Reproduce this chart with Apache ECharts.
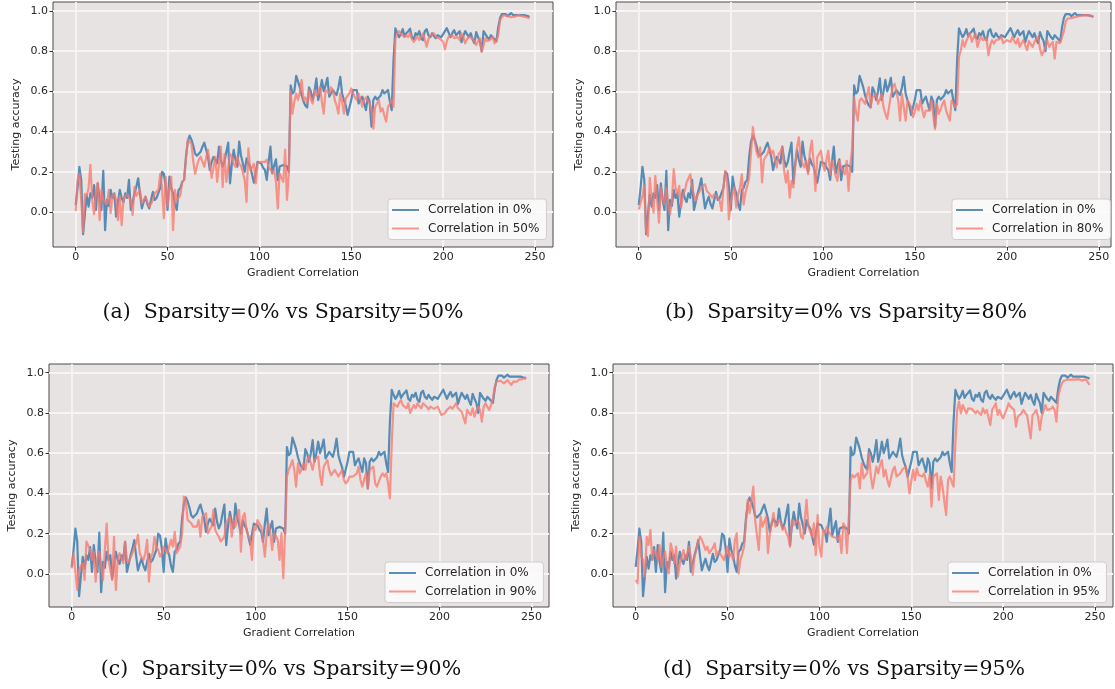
<!DOCTYPE html>
<html>
<head>
<meta charset="utf-8">
<script src="https://cdn.jsdelivr.net/npm/echarts@6/dist/echarts.min.js"></script>
<style>
  html, body { margin: 0; padding: 0; background: #ffffff; }
  #chart { width: 1115px; height: 689px; }
</style>
</head>
<body>
<div id="chart"></div>
<script>
// Testing accuracy per gradient-correlation step, dense baseline (sparsity 0%)
const acc0 = [
  0.035,0.12,0.225,0.16,-0.11,-0.01,0.085,0.027,0.093,0.07,
  0.134,0.01,0.143,0.06,0.01,0.205,-0.09,0.06,0.03,0.11,
  0.07,0.093,-0.023,0.05,0.11,0.07,0.05,0.093,0.07,0.16,
  0.01,0.05,0.093,0.126,0.168,0.09,0.018,0.05,0.076,0.04,
  0.018,0.06,0.1,0.06,0.07,0.076,0.12,0.2,0.19,0.126,
  0.01,0.176,0.12,0.093,0.04,0.01,0.11,0.12,0.15,0.16,
  0.275,0.35,0.38,0.36,0.33,0.29,0.28,0.274,0.3,0.325,
  0.345,0.31,0.274,0.209,0.25,0.274,0.26,0.242,0.325,0.26,
  0.226,0.25,0.3,0.345,0.143,0.24,0.309,0.26,0.226,0.35,
  0.28,0.242,0.2,0.267,0.24,0.226,0.234,0.146,0.2,0.25,
  0.245,0.242,0.22,0.209,0.16,0.25,0.325,0.192,0.23,0.262,
  0.159,0.226,0.23,0.234,0.23,0.226,0.2,0.63,0.59,0.6,
  0.677,0.65,0.62,0.58,0.55,0.53,0.52,0.62,0.6,0.557,
  0.6,0.665,0.557,0.6,0.657,0.6,0.63,0.668,0.574,0.59,
  0.607,0.6,0.582,0.62,0.673,0.59,0.557,0.53,0.483,0.52,
  0.557,0.607,0.6,0.607,0.54,0.56,0.574,0.54,0.507,0.574,
  0.55,0.425,0.557,0.574,0.56,0.557,0.58,0.607,0.59,0.582,
  0.607,0.55,0.507,0.756,0.914,0.89,0.87,0.885,0.91,0.875,
  0.89,0.9,0.912,0.87,0.86,0.89,0.88,0.9,0.865,0.855,
  0.9,0.91,0.88,0.87,0.89,0.875,0.865,0.88,0.882,0.87,
  0.875,0.9,0.915,0.92,0.87,0.89,0.905,0.88,0.89,0.9,
  0.845,0.875,0.9,0.885,0.87,0.89,0.86,0.84,0.895,0.87,
  0.85,0.8,0.9,0.885,0.87,0.86,0.88,0.87,0.865,0.85,
  0.92,0.965,0.985,0.98,0.985,0.975,0.98,0.99,0.98,0.975,
  0.98,0.985,0.98,0.975,0.98,0.98,0.975,0.97
];

// Sparsity 50%
const acc50 = [
  0.005,0.16,0.19,0.06,-0.10,0.09,0.08,0.12,0.235,0.06,
  -0.01,0.10,0.145,-0.04,0.11,0.06,0.06,0.04,0.11,-0.005,
  0.08,0.09,0.06,-0.04,0.08,-0.065,0.06,0.08,0.09,0.07,
  0.06,-0.015,0.125,0.08,0.075,0.11,0.043,0.06,0.075,0.05,
  0.027,0.04,0.06,0.093,0.10,0.11,0.19,0.12,-0.03,0.175,
  0.03,0.12,0.175,-0.09,0.11,0.06,0.07,0.085,0.15,0.16,
  0.26,0.36,0.35,0.34,0.25,0.19,0.23,0.26,0.275,0.25,
  0.225,0.27,0.31,0.24,0.17,0.22,0.275,0.15,0.24,0.325,
  0.125,0.29,0.15,0.22,0.29,0.275,0.24,0.225,0.275,0.24,
  0.23,0.225,0.16,0.05,0.317,0.21,0.22,0.24,0.143,0.242,
  0.25,0.25,0.242,0.25,0.26,0.226,0.21,0.193,0.21,0.15,
  0.018,0.193,0.17,0.15,0.31,0.06,0.193,0.60,0.49,0.55,
  0.59,0.557,0.60,0.657,0.557,0.57,0.54,0.607,0.56,0.54,
  0.607,0.58,0.59,0.624,0.55,0.49,0.607,0.60,0.59,0.62,
  0.607,0.557,0.53,0.49,0.59,0.55,0.49,0.565,0.557,0.59,
  0.615,0.615,0.57,0.557,0.59,0.56,0.524,0.557,0.57,0.574,
  0.54,0.507,0.415,0.524,0.54,0.557,0.50,0.515,0.48,0.45,
  0.524,0.54,0.557,0.524,0.86,0.89,0.90,0.885,0.89,0.87,
  0.88,0.87,0.892,0.86,0.847,0.86,0.872,0.856,0.87,0.889,
  0.86,0.823,0.86,0.88,0.875,0.889,0.872,0.88,0.864,0.855,
  0.847,0.809,0.85,0.872,0.87,0.88,0.865,0.856,0.87,0.856,
  0.889,0.87,0.839,0.86,0.872,0.87,0.864,0.85,0.831,0.85,
  0.864,0.797,0.83,0.864,0.85,0.847,0.86,0.872,0.839,0.85,
  0.88,0.955,0.97,0.98,0.978,0.975,0.975,0.97,0.975,0.972,
  0.975,0.98,0.978,0.975,0.975,0.97,0.968,0.964
];

// Sparsity 80%
const acc80 = [
  0.013,0.022,0.08,0.13,-0.095,-0.12,0.17,0.06,-0.003,0.18,
  0.06,-0.053,0.122,0.07,0.038,0.122,0.04,-0.012,0.055,0.213,
  0.12,0.088,0.13,0.022,0.08,0.105,0.147,0.14,0.188,0.12,
  0.088,0.055,0.088,0.10,0.122,0.13,0.138,0.105,0.095,0.088,
  0.072,0.088,0.08,0.072,0.055,0.005,0.12,0.205,0.155,-0.037,
  0.055,0.09,0.122,0.022,0.088,0.12,0.188,0.038,0.097,0.13,
  0.172,0.30,0.422,0.355,0.30,0.272,0.322,0.147,0.26,0.255,
  0.29,0.322,0.288,0.305,0.26,0.222,0.288,0.30,0.322,0.205,
  0.147,0.205,0.072,0.155,0.122,0.222,0.322,0.372,0.272,0.24,
  0.222,0.255,0.188,0.30,0.355,0.255,0.105,0.272,0.29,0.305,
  0.238,0.205,0.26,0.305,0.188,0.255,0.222,0.18,0.155,0.255,
  0.22,0.205,0.188,0.255,0.105,0.238,0.32,0.572,0.50,0.455,
  0.555,0.565,0.572,0.538,0.58,0.622,0.522,0.572,0.58,0.588,
  0.538,0.56,0.588,0.522,0.49,0.463,0.522,0.58,0.622,0.638,
  0.60,0.555,0.455,0.588,0.52,0.455,0.555,0.54,0.522,0.472,
  0.50,0.538,0.505,0.555,0.51,0.472,0.505,0.50,0.505,0.555,
  0.48,0.413,0.538,0.488,0.51,0.538,0.555,0.505,0.48,0.455,
  0.555,0.54,0.522,0.538,0.772,0.805,0.855,0.822,0.85,0.872,
  0.888,0.847,0.87,0.888,0.822,0.85,0.872,0.855,0.86,0.863,
  0.78,0.83,0.855,0.838,0.855,0.847,0.86,0.872,0.84,0.838,
  0.855,0.85,0.847,0.872,0.85,0.838,0.863,0.822,0.84,0.855,
  0.863,0.805,0.85,0.855,0.822,0.847,0.86,0.872,0.813,0.78,
  0.80,0.822,0.855,0.822,0.835,0.847,0.763,0.847,0.838,0.84,
  0.847,0.90,0.947,0.963,0.965,0.965,0.968,0.97,0.972,0.975,
  0.975,0.978,0.98,0.98,0.98,0.978,0.976,0.975
];

// Sparsity 90%
const acc90 = [
  0.028,0.103,0.111,-0.079,0.02,0.04,0.053,-0.03,0.161,0.161,
  0.12,0.07,0.111,-0.038,0.08,0.111,0.036,-0.03,0.12,0.25,
  0.07,0.02,-0.03,0.185,-0.079,0.07,0.103,0.08,0.053,0.161,
  0.07,0.06,0.053,0.103,0.13,0.152,0.194,0.103,0.08,0.07,
  0.103,0.17,-0.038,0.086,0.103,0.185,0.136,0.12,0.086,0.103,
  0.136,0.12,0.103,0.136,0.17,0.136,0.209,0.103,0.12,0.136,
  0.202,0.384,0.368,0.268,0.26,0.252,0.235,0.24,0.235,0.268,
  0.185,0.285,0.29,0.302,0.202,0.22,0.235,0.318,0.219,0.20,
  0.185,0.161,0.152,0.185,0.252,0.27,0.285,0.185,0.268,0.235,
  0.29,0.318,0.111,0.285,0.302,0.219,0.19,0.169,0.07,0.235,
  0.219,0.268,0.25,0.235,0.169,0.086,0.2,0.252,0.202,0.119,
  0.202,0.19,0.169,0.07,0.202,-0.021,0.202,0.485,0.517,0.54,
  0.566,0.517,0.434,0.55,0.5,0.52,0.55,0.517,0.566,0.583,
  0.55,0.517,0.566,0.57,0.583,0.492,0.442,0.533,0.55,0.566,
  0.517,0.49,0.484,0.517,0.5,0.484,0.50,0.517,0.467,0.45,
  0.46,0.484,0.475,0.484,0.49,0.5,0.533,0.467,0.434,0.47,
  0.5,0.425,0.517,0.52,0.533,0.45,0.434,0.46,0.484,0.50,
  0.484,0.5,0.45,0.376,0.65,0.848,0.856,0.831,0.85,0.864,
  0.839,0.83,0.823,0.848,0.8,0.82,0.839,0.823,0.848,0.835,
  0.823,0.848,0.84,0.831,0.818,0.831,0.823,0.82,0.815,0.831,
  0.81,0.79,0.781,0.8,0.815,0.806,0.831,0.82,0.815,0.848,
  0.823,0.815,0.806,0.798,0.748,0.815,0.80,0.79,0.823,0.781,
  0.81,0.831,0.815,0.757,0.831,0.848,0.83,0.815,0.839,0.87,
  0.93,0.955,0.958,0.96,0.952,0.947,0.955,0.963,0.95,0.939,
  0.955,0.963,0.955,0.965,0.972,0.968,0.963,0.977
];

// Sparsity 95%
const acc95 = [
  -0.03,-0.046,0.185,0.086,0.07,-0.013,0.185,0.144,0.219,0.07,
  0.119,0.103,0.07,0.144,0.036,0.08,0.111,0.036,0.003,0.152,
  0.119,0.053,0.136,-0.013,0.05,0.086,0.119,0.07,0.1,0.136,
  0.086,-0.005,0.086,0.12,0.161,0.185,0.17,0.169,0.119,0.136,
  0.103,0.111,0.13,0.152,0.086,0.111,0.1,0.086,0.07,0.1,
  0.136,0.086,0.103,0.07,0.169,0.202,0.003,0.07,0.1,0.136,
  0.252,0.368,0.302,0.36,0.434,0.268,0.268,0.119,0.285,0.235,
  0.26,0.285,0.103,0.2,0.252,0.302,0.235,0.25,0.268,0.252,
  0.219,0.235,0.202,0.185,0.136,0.268,0.243,0.25,0.268,0.252,
  0.185,0.175,0.169,0.368,0.235,0.21,0.185,0.252,0.094,0.293,
  0.136,0.086,0.219,0.202,0.235,0.21,0.202,0.185,0.194,0.18,
  0.169,0.194,0.103,0.252,0.235,0.103,0.285,0.467,0.492,0.48,
  0.475,0.5,0.425,0.55,0.475,0.49,0.5,0.6,0.484,0.425,
  0.48,0.533,0.5,0.54,0.566,0.484,0.517,0.467,0.434,0.48,
  0.517,0.533,0.484,0.49,0.5,0.517,0.52,0.533,0.484,0.4,
  0.46,0.517,0.467,0.525,0.492,0.49,0.484,0.5,0.46,0.434,
  0.492,0.334,0.484,0.49,0.5,0.368,0.484,0.434,0.36,0.293,
  0.467,0.484,0.459,0.434,0.649,0.815,0.856,0.798,0.839,0.82,
  0.798,0.823,0.815,0.82,0.823,0.798,0.81,0.815,0.79,0.823,
  0.798,0.815,0.78,0.74,0.815,0.83,0.848,0.79,0.815,0.79,
  0.773,0.798,0.82,0.848,0.831,0.839,0.815,0.732,0.781,0.79,
  0.798,0.815,0.80,0.79,0.781,0.674,0.79,0.80,0.815,0.781,
  0.715,0.781,0.81,0.839,0.815,0.815,0.82,0.831,0.815,0.757,
  0.881,0.92,0.947,0.96,0.967,0.965,0.963,0.965,0.967,0.965,
  0.963,0.968,0.972,0.96,0.955,0.967,0.965,0.939
];

const xTicks = [0, 50, 100, 150, 200, 250];
const yTicks = [0.0, 0.2, 0.4, 0.6, 0.8, 1.0];
const baseName = 'Correlation in 0%';
const sparseNames = ['Correlation in 50%', 'Correlation in 80%', 'Correlation in 90%', 'Correlation in 95%'];
const sparseSeries = [acc50, acc80, acc90, acc95];
const captions = [
  '(a)  Sparsity=0% vs Sparsity=50%',
  '(b)  Sparsity=0% vs Sparsity=80%',
  '(c)  Sparsity=0% vs Sparsity=90%',
  '(d)  Sparsity=0% vs Sparsity=95%'
];
const xName = 'Gradient Correlation';
const yName = 'Testing accuracy';

// Panel geometry (pixels) and axis extents
const layout = [
  { left: 53,  top: 2,   width: 500, height: 245, xMin: -12.36, xMax: 259.8, yMin: -0.174, yMax: 1.045,
    legend: [388, 199], caption: [283, 313] },
  { left: 616, top: 2,   width: 495, height: 245, xMin: -12.36, xMax: 256.6, yMin: -0.174, yMax: 1.045,
    legend: [952, 199], caption: [846, 313] },
  { left: 49,  top: 364, width: 500, height: 243, xMin: -12.36, xMax: 259.5, yMin: -0.164, yMax: 1.043,
    legend: [385, 562], caption: [281, 670] },
  { left: 613, top: 364, width: 500, height: 243, xMin: -12.36, xMax: 259.8, yMin: -0.164, yMax: 1.043,
    legend: [948, 562], caption: [844, 670] }
];

const BLUE = 'rgba(44, 114, 168, 0.78)';
const RED = 'rgba(250, 122, 110, 0.78)';
const FACE = '#e8e3e3';
const TEXT = '#262626';
const SANS = 'DejaVu Sans';

const steps = acc0.map((_, i) => i);
const pairs = vals => vals.map((v, i) => [steps[i], v]);

const grid = [], xAxis = [], yAxis = [], series = [], legend = [], graphic = [];

layout.forEach((p, k) => {
  grid.push({
    left: p.left, top: p.top, width: p.width, height: p.height,
    show: true, backgroundColor: FACE, borderColor: '#4a4a4a', borderWidth: 1
  });
  xAxis.push({
    type: 'value', gridIndex: k, min: p.xMin, max: p.xMax, position: 'bottom',
    name: xName, nameLocation: 'middle', nameGap: 21,
    nameTextStyle: { fontFamily: SANS, fontSize: 11, color: TEXT },
    axisLine: { show: false, onZero: false },
    axisTick: { show: true, length: 3.5, lineStyle: { color: '#333', width: 1 }, customValues: xTicks },
    axisLabel: { customValues: xTicks, fontFamily: SANS, fontSize: 11, color: TEXT, margin: 5,
                 formatter: v => String(v) },
    splitLine: { show: true, lineStyle: { color: '#f7f4f4', width: 1.8 } }
  });
  yAxis.push({
    type: 'value', gridIndex: k, min: p.yMin, max: p.yMax, position: 'left',
    name: yName, nameLocation: 'middle', nameGap: 31,
    nameTextStyle: { fontFamily: SANS, fontSize: 11, color: TEXT },
    axisLine: { show: false, onZero: false },
    axisTick: { show: true, length: 3.5, lineStyle: { color: '#333', width: 1 }, customValues: yTicks },
    axisLabel: { customValues: yTicks, fontFamily: SANS, fontSize: 11, color: TEXT, margin: 5,
                 formatter: v => v.toFixed(1) },
    splitLine: { show: true, lineStyle: { color: '#f7f4f4', width: 1.8 } }
  });
  series.push({
    type: 'line', name: baseName, xAxisIndex: k, yAxisIndex: k,
    data: pairs(acc0), symbol: 'none', color: BLUE,
    lineStyle: { width: 2.2, color: BLUE, join: 'round' }, z: 3
  });
  series.push({
    type: 'line', name: sparseNames[k], xAxisIndex: k, yAxisIndex: k,
    data: pairs(sparseSeries[k]), symbol: 'none', color: RED,
    lineStyle: { width: 2.2, color: RED, join: 'round' }, z: 4
  });
  legend.push({
    data: [baseName, sparseNames[k]], orient: 'vertical',
    left: p.legend[0], top: p.legend[1],
    icon: 'rect', itemWidth: 27, itemHeight: 2, itemGap: 4.5,
    padding: [4, 7, 4, 4],
    backgroundColor: 'rgba(252,251,251,0.9)', borderColor: '#d0cccc', borderWidth: 1, borderRadius: 3,
    textStyle: { fontFamily: SANS, fontSize: 12, color: TEXT, lineHeight: 14, padding: [0, 0, 0, 4] },
    selectedMode: false
  });
  graphic.push({
    type: 'text', x: p.caption[0], y: p.caption[1],
    style: { text: captions[k], align: 'center', verticalAlign: 'middle',
             fontFamily: 'DejaVu Serif', fontSize: 20.5, fill: '#111' }
  });
});

const chart = echarts.init(document.getElementById('chart'), null, { renderer: 'canvas' });
chart.setOption({
  animation: false,
  backgroundColor: '#ffffff',
  grid, xAxis, yAxis, series, legend, graphic
});
</script>
</body>
</html>
